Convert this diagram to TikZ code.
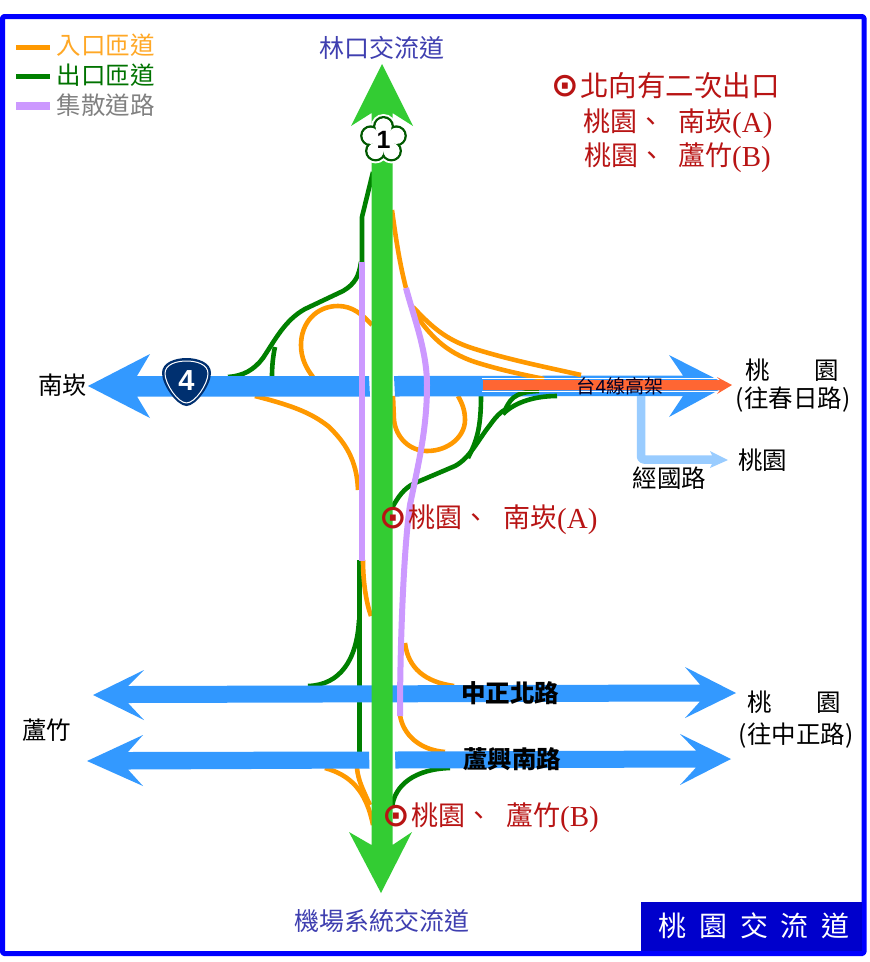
\documentclass[tikz,border=0pt]{standalone}
\usepackage{fontspec}
\setmainfont{Noto Sans CJK TC}
\newfontfamily\serifL{Liberation Serif}
\newfontfamily\symL{DejaVu Sans}
\newfontfamily\sansL{Liberation Sans}
\newcommand{\fs}[1]{\fontsize{#1}{#1}\selectfont}
\definecolor{hwy}{HTML}{33CC33}
\definecolor{road}{HTML}{3399FF}
\definecolor{onr}{HTML}{FF9900}
\definecolor{offr}{HTML}{008000}
\definecolor{cdr}{HTML}{CC99FF}
\definecolor{elev}{HTML}{FF6633}
\definecolor{lroad}{HTML}{99CCFF}
\definecolor{frameb}{HTML}{0000FF}
\definecolor{boxb}{HTML}{0000CC}
\definecolor{redt}{HTML}{B81414}
\definecolor{bluet}{HTML}{3F3FB0}
\definecolor{navy}{HTML}{003070}
\newcommand{\ab}{\raisebox{-1.5pt}{\serifL\fs{29}(A)}}
\newcommand{\bb}{\raisebox{-1.5pt}{\serifL\fs{29}(B)}}
\tikzset{
  onramp/.style={draw=onr,line width=4.6pt},
  offramp/.style={draw=offr,line width=4.6pt},
  cdroad/.style={draw=cdr,line width=6pt},
  lab/.style={inner sep=0pt,text=black,font=\fs{24.5}},
  redlab/.style={inner sep=0pt,text=redt,font=\fs{27},anchor=west},
  redsym/.style={inner sep=0pt,text=redt,font=\symL\bfseries\fs{33}},
  bluelab/.style={inner sep=0pt,text=bluet,font=\fs{25}},
  roadlab/.style={inner sep=0pt,text=black,font=\fs{24.5}\bfseries},
}
\begin{document}
\begin{tikzpicture}[x=1pt,y=-1pt,line join=round]
\useasboundingbox (0,0) rectangle (870,962);
\fill[white] (0,0) rectangle (870,962);
\draw[frameb,line width=5pt,rounded corners=1.5pt] (2.5,16.5) rectangle (864,953.5);
\fill[boxb] (641,902) rectangle (862,951);
\node[inner sep=0pt,text=white,font=\fs{28}] (boxt) at (754,926) {桃\hspace{.46em}園\hspace{.46em}交\hspace{.46em}流\hspace{.46em}道};
% legend
\coordinate (l1a) at (16,47); \coordinate (l1b) at (50,47);
\coordinate (l2a) at (16,76); \coordinate (l2b) at (50,76);
\coordinate (l3a) at (16,106); \coordinate (l3b) at (50,106);
\draw[onramp,line width=5pt] (l1a) -- (l1b);
\draw[offramp,line width=5pt] (l2a) -- (l2b);
\draw[cdroad,line width=8pt] (l3a) -- (l3b);
\node[inner sep=0pt,text=onr!85!white,font=\fs{24.5}] (t1) at (105.5,45) {入口匝道};
\node[inner sep=0pt,text=offr!90!black,font=\fs{24.5}] (t2) at (105.5,75.5) {出口匝道};
\node[inner sep=0pt,text=gray,font=\fs{24.5}] (t3) at (105.5,105.5) {集散道路};
% ramps under the roads
\draw[offramp] (373,172) -- (362,217) -- (362,262);
\draw[offramp] (361,262) .. controls (359,276) and (355,284) .. (343,291) -- (305,309) .. controls (285,320) and (275,340) .. (263,358) .. controls (254,370) and (243,376) .. (228,377);
\draw[offramp] (275,347) .. controls (273,356) and (272,366) .. (272,377);
\draw[onramp] (372,325) .. controls (362,314) and (352,306) .. (338,306) .. controls (316,306) and (301,323) .. (301,345) .. controls (301,358) and (306,368) .. (313,377);
\draw[onramp] (255,396) .. controls (290,405) and (310,412) .. (328,426) .. controls (345,442) and (357,460) .. (358,490);
\draw[onramp] (393,396) -- (394,420) .. controls (396,438) and (410,451) .. (427,451) .. controls (449,451) and (465,436) .. (465,420) .. controls (465,410) and (462,403) .. (458,396);
\draw[onramp] (392,210) .. controls (396,240) and (400,265) .. (406,288);
\draw[offramp] (392,508) .. controls (398,497) and (404,488) .. (415,483) -- (455,466) .. controls (470,458) and (478,440) .. (490,425) .. controls (497,415) and (503,410) .. (507,409);
\draw[offramp] (468,458) .. controls (476,442) and (481,430) .. (481,396);
\draw[offramp,line width=5pt] (359,560) -- (359,752);
\draw[offramp] (359,620) .. controls (357,660) and (340,685) .. (308,686);
\draw[onramp] (363,560) .. controls (363,585) and (367,605) .. (371,616);
\draw[onramp] (405,643) .. controls (408,668) and (425,682) .. (454,686);
\draw[onramp] (400,715) .. controls (403,735) and (420,750) .. (445,752);
\draw[onramp] (325,768) .. controls (350,775) and (366,790) .. (373,825);
\draw[onramp] (357,768) .. controls (358,780) and (363,790) .. (370,805);
\draw[offramp] (392,808) .. controls (394,785) and (415,769) .. (450,768);
% roads
\fill[road] (88,386) -- (150,354) -- (137,376) -- (369,376) -- (370,396.5) -- (137,396.5) -- (150,418) -- cycle;
\fill[road] (394,376) -- (683,375.5) -- (669,355) -- (728,385) -- (669,417) -- (683,396) -- (395,396.5) -- cycle;
\fill[road] (93,695) -- (144,670) -- (128,686) -- (700,684.5) -- (685,667) -- (736,693) -- (685,718) -- (700,701.5) -- (128,703) -- (144,720) -- cycle;
\fill[road] (87,761) -- (143,735) -- (128,752) -- (369,751.5) -- (369.5,768.5) -- (128,769.5) -- (143,786) -- cycle;
\fill[road] (395,751.5) -- (696,750.5) -- (680,734) -- (731,759) -- (680,785) -- (696,767.5) -- (395.5,768.5) -- cycle;
% light blue branch
\draw[lroad,line width=8.5pt,rounded corners=3pt] (641,396) -- (641,459.5) -- (714,459.5);
\fill[lroad] (728,460) -- (710,451) -- (714,459.5) -- (710,468) -- cycle;
% ramps over the road
\draw[onramp] (413,307) .. controls (430,325) and (445,340) .. (475,349) .. controls (510,360) and (550,368) .. (581,375);
\draw[onramp] (416,315) .. controls (430,335) and (445,352) .. (475,362) .. controls (500,370) and (525,375) .. (544,379);
\draw[offramp] (503,414) .. controls (510,400) and (512,392) .. (539,391);
\draw[offramp] (503,414) .. controls (515,402) and (535,396) .. (557,396);
% collector roads
\draw[cdroad] (361.5,262) -- (361.5,561);
\draw[cdroad] (406,288) .. controls (413,315) and (427,350) .. (427,385) .. controls (427,430) and (418,465) .. (410,505) .. controls (404,545) and (400,640) .. (400,716);
% main line
\fill[hwy] (382,64) -- (413,126) -- (392.5,113) -- (392.5,845) -- (412,832) -- (381,893) -- (349,832) -- (371.5,845) -- (371.5,113) -- (351,126) -- cycle;
% elevated road
\draw[white,line width=.9pt] (482,378.3) -- (718,378.3) (482,391.7) -- (718,391.7);
\fill[elev] (483,380) -- (720,380) -- (717,377) -- (732,385) -- (717,394) -- (720,390) -- (483,390) -- cycle;
\node[inner sep=0pt,text=black!85!blue,font=\fs{19}] (elevt) at (620,386) {台{\sansL 4}線高架};
% route 1 shield
\foreach \a in {90,162,234,306,18}{\fill[white] (383.5,140)++(\a:-13.5) circle (12.5);}
\foreach \a in {90,162,234,306,18}{\draw[draw=green!35!black,line width=2.4pt] (383.5,140)++(\a:-13.5) circle (9.3);}
\foreach \a in {90,162,234,306,18}{\fill[white] (383.5,140)++(\a:-13.5) circle (8.1);}
\fill[white] (383.5,140) circle (11);
\node[inner sep=0pt,text=black,font=\fs{25}\sansL\bfseries] (one) at (383.5,140) {1};
% route 4 shield
\fill[navy] (162,373) .. controls (162,362) and (176,358) .. (186.5,358) .. controls (197,358) and (211,362) .. (211,373) .. controls (211,385) and (196,406) .. (186.5,406) .. controls (177,406) and (162,385) .. cycle;
\draw[white,line width=1pt] (165,373.5) .. controls (165,364) and (177,361) .. (186.5,361) .. controls (196,361) and (208,364) .. (208,373.5) .. controls (208,384) and (195,403) .. (186.5,403) .. controls (178,403) and (165,384) .. cycle;
\node[inner sep=0pt,text=white,font=\fs{29}\sansL\bfseries] (four) at (186.5,381) {4};
% labels
\node[bluelab] (n) at (382,48) {林口交流道};
\node[bluelab] (s) at (382,921) {機場系統交流道};
\node[lab] (w1) at (62.5,385) {南崁};
\node[lab] (e1a) at (792,370) {桃\hspace{1.8em}園};
\node[lab] (e1b) at (793,400) {(往春日路)};
\node[lab] (e2) at (762.5,460) {桃園};
\node[lab] (jg) at (669.5,478) {經國路};
\node[lab] (w3) at (46.5,730) {蘆竹};
\node[lab] (e3a) at (794,702) {桃\hspace{1.8em}園};
\node[lab] (e3b) at (796,736) {(往中正路)};
\node[roadlab] (r2) at (510,693) {中正北路};
\node[roadlab] (r3) at (512,759) {蘆興南路};
\node[redsym] (s0) at (565,86) {⊙};
\node[redlab,font=\fs{28.5}] (a0) at (580,86) {北向有二次出口};
\node[redlab] (a1) at (583,123.5) {桃園、\hspace{14pt}南崁\ab};
\node[redlab] (a2) at (584,157.5) {桃園、\hspace{13pt}蘆竹\bb};
\node[redsym] (s3) at (393,518) {⊙};
\node[redlab] (a3) at (408,519.5) {桃園、\hspace{14pt}南崁\ab};
\node[redsym] (s4) at (396,816) {⊙};
\node[redlab] (a4) at (411,817.5) {桃園、\hspace{14pt}蘆竹\bb};
\end{tikzpicture}
\end{document}
